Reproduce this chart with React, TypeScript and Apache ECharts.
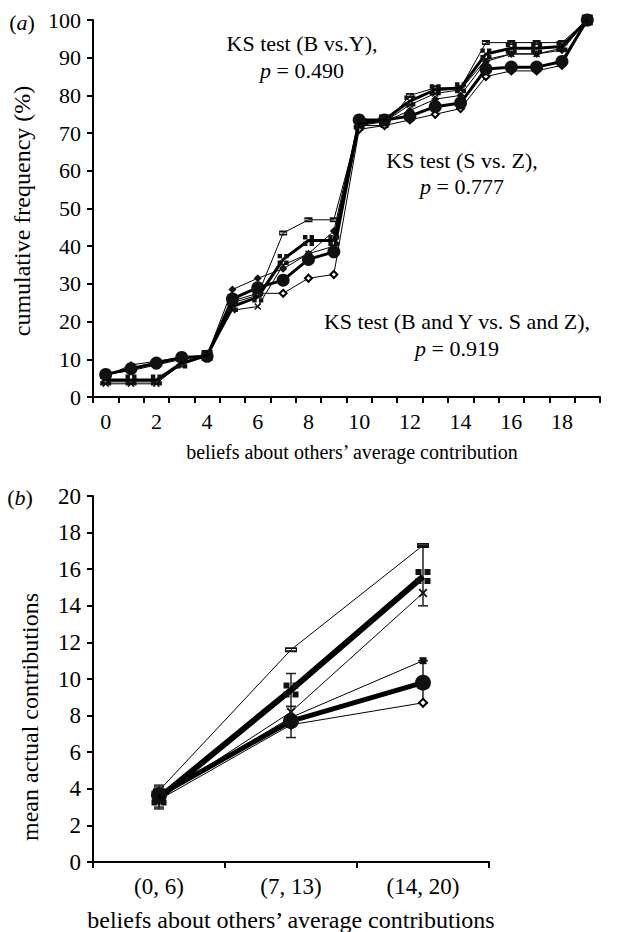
import React, { useEffect, useRef } from 'react';
import * as echarts from 'echarts';

// ---------- panel (a) data ----------
const beliefCategories = ['0', '1', '2', '3', '4', '5', '6', '7', '8', '9', '10', '11', '12', '13', '14', '15', '16', '17', '18', '19'];
const cumBandY = [4.5, 4.5, 4.5, 9, 11, 24, 26.5, 36.5, 41.5, 41.5, 72.5, 73.5, 78.5, 81.5, 82, 91, 92.5, 92.5, 93, 100];
const cumSandZ = [6, 7.5, 9, 10.5, 10.8, 26, 29, 31, 36.5, 38.5, 73.5, 73.5, 74.5, 77, 78, 87, 87.5, 87.5, 89, 100];
const cumDash = [4, 4, 4, 8.5, 11, 25, 27, 43.5, 47, 47, 72, 72, 80, 82, 82, 94, 94, 94, 94, 100];
const cumDiamond = [5.5, 8.5, 9.5, 10.5, 11, 28.5, 31.5, 34, 38, 44, 74, 73, 76, 79, 80, 89, 91, 91, 92, 100];
const cumOpenDiamond = [6, 7, 8.5, 10, 11, 25.5, 27.5, 27.5, 31.5, 32.5, 71, 72, 73.5, 75, 76.5, 85, 86.5, 86.5, 88, 100];
const cumCross = [3.5, 3.5, 3.5, 9, 11, 23, 24, 35, 38, 40, 72, 73, 77.5, 80.5, 81.5, 89.5, 91, 91, 92.5, 100];

// ---------- panel (b) data ----------
const beliefGroups = ['(0, 6)', '(7, 13)', '(14, 20)'];
const meanBandY = [3.5, 9.4, 15.6];
const meanSandZ = [3.65, 7.7, 9.8];
const meanDash = [3.9, 11.6, 17.3];
const meanCross = [3.5, 8.2, 14.7];
const meanSquare = [3.6, 7.9, 11.0];
const meanOpenDiamond = [3.4, 7.5, 8.7];
const errBandY = [[0, 3.0, 4.1], [1, 8.5, 10.3], [2, 14.0, 17.3]];
const errSandZ = [[0, 2.9, 4.2], [1, 6.8, 8.5], [2, 8.7, 11.0]];

const FONT = 'Liberation Serif';
const SQ_CROSS = 'path://M0,0h8v8h-8z M12,0h8v8h-8z M0,12h8v8h-8z M12,12h8v8h-8z';
const DASH_RECT = 'path://M0,0h20v3h-20z M0,5h20v3h-20z M0,0h2v8h-2z M18,0h2v8h-2z';
const X_MARK = 'path://M0,1.5L1.5,0L5,3.5L8.5,0L10,1.5L6.5,5L10,8.5L8.5,10L5,6.5L1.5,10L0,8.5L3.5,5Z';

function lineSeries(xi: number, data: number[], symbol: string, size: any, width: number, z: number, empty = false) {
  return {
    type: 'line',
    xAxisIndex: xi,
    yAxisIndex: xi,
    data,
    symbol,
    symbolSize: size,
    showAllSymbol: true,
    z,
    lineStyle: { color: '#000', width },
    itemStyle: empty ? { color: '#000', borderColor: '#000', borderWidth: 1 } : { color: '#111', borderWidth: 0 },
    emphasis: { disabled: true },
  };
}

function errorSeries(data: number[][]) {
  return {
    type: 'custom',
    xAxisIndex: 1,
    yAxisIndex: 1,
    data,
    z: 1,
    renderItem: (params: any, api: any) => {
      const lo = api.coord([api.value(0), api.value(1)]);
      const hi = api.coord([api.value(0), api.value(2)]);
      const w = 5;
      const st = { stroke: '#222', lineWidth: 1.5 };
      return {
        type: 'group',
        children: [
          { type: 'line', shape: { x1: lo[0], y1: lo[1], x2: hi[0], y2: hi[1] }, style: st },
          { type: 'line', shape: { x1: lo[0] - w, y1: lo[1], x2: lo[0] + w, y2: lo[1] }, style: st },
          { type: 'line', shape: { x1: hi[0] - w, y1: hi[1], x2: hi[0] + w, y2: hi[1] }, style: st },
        ],
      };
    },
  };
}

function txt(x: number, y: number, text: string, size = 22, extra: any = {}) {
  return {
    type: 'text',
    x,
    y,
    ...extra,
    style: {
      text,
      fill: '#000',
      font: `${size}px "${FONT}"`,
      fontFamily: FONT,
      fontSize: size,
      align: 'center',
      verticalAlign: 'middle',
      textAlign: 'center',
      textVerticalAlign: 'middle',
      rich: {
        i: { fontStyle: 'italic', fontFamily: FONT, fontSize: size, fill: '#000' },
      },
    },
  };
}

export default function App() {
  const ref = useRef<HTMLDivElement>(null);
  useEffect(() => {
    document.body.style.margin = '0';
    const chart = echarts.init(ref.current!, null, { renderer: 'svg' });
    const axisLine = { show: true, lineStyle: { color: '#000', width: 2 } };
    const axisTick = { show: true, inside: false, length: 6, lineStyle: { color: '#000', width: 2 } };
    const axisLabel = { color: '#000', fontFamily: FONT, fontSize: 22 };
    chart.setOption({
      animation: false,
      backgroundColor: '#fff',
      grid: [
        { left: 93, top: 20, width: 507, height: 377 },
        { left: 93, top: 496, width: 396, height: 366 },
      ],
      xAxis: [
        {
          type: 'category', gridIndex: 0, data: beliefCategories, boundaryGap: true,
          axisLine, axisTick: { ...axisTick, interval: 0 },
          axisLabel: { ...axisLabel, interval: 1, margin: 13 }, splitLine: { show: false },
        },
        {
          type: 'category', gridIndex: 1, data: beliefGroups, boundaryGap: true,
          axisLine, axisTick: { ...axisTick, interval: 0 },
          axisLabel: { ...axisLabel, fontSize: 23, interval: 0, margin: 13 }, splitLine: { show: false },
        },
      ],
      yAxis: [
        {
          type: 'value', gridIndex: 0, min: 0, max: 100, interval: 10,
          axisLine, axisTick, axisLabel: { ...axisLabel, margin: 12 }, splitLine: { show: false },
        },
        {
          type: 'value', gridIndex: 1, min: 0, max: 20, interval: 2,
          axisLine, axisTick, axisLabel: { ...axisLabel, fontSize: 23, margin: 12 }, splitLine: { show: false },
        },
      ],
      series: [
        lineSeries(0, cumDash, DASH_RECT, [8, 5], 1, 2),
        lineSeries(0, cumDiamond, 'diamond', 8, 1, 2),
        lineSeries(0, cumOpenDiamond, 'emptyDiamond', 7, 1, 2, true),
        lineSeries(0, cumCross, X_MARK, 7, 1, 2),
        lineSeries(0, cumSandZ, 'circle', 13, 3, 3),
        lineSeries(0, cumBandY, SQ_CROSS, 11, 3, 4),
        errorSeries(errBandY),
        errorSeries(errSandZ),
        lineSeries(1, meanDash, DASH_RECT, [12, 5], 1, 2),
        lineSeries(1, meanCross, X_MARK, 9, 1, 2),
        lineSeries(1, meanSquare, 'rect', 7, 1, 2),
        lineSeries(1, meanOpenDiamond, 'emptyDiamond', 8, 1, 2, true),
        lineSeries(1, meanSandZ, 'circle', 16, 5, 3),
        lineSeries(1, meanBandY, SQ_CROSS, 15, 6, 4),
      ],
      graphic: [
        txt(22, 22, '({i|a})'),
        txt(20, 497, '({i|b})'),
        txt(22, 211, 'cumulative frequency (%)', 24, { rotation: Math.PI / 2 }),
        txt(30, 717, 'mean actual contributions', 24, { rotation: Math.PI / 2 }),
        txt(352, 452, 'beliefs about others’ average contribution', 20),
        txt(291, 920, 'beliefs about others’ average contributions', 24),
        txt(302, 43, 'KS test (B vs.Y),'),
        txt(302, 70, '{i|p} = 0.490'),
        txt(462, 160, 'KS test (S vs. Z),'),
        txt(462, 186, '{i|p} = 0.777'),
        txt(457, 321, 'KS test (B and Y vs. S and Z),'),
        txt(457, 348, '{i|p} = 0.919'),
      ],
    });
    return () => chart.dispose();
  }, []);
  return <div ref={ref} style={{ position: 'absolute', left: 0, top: 0, width: 626, height: 932 }} />;
}
